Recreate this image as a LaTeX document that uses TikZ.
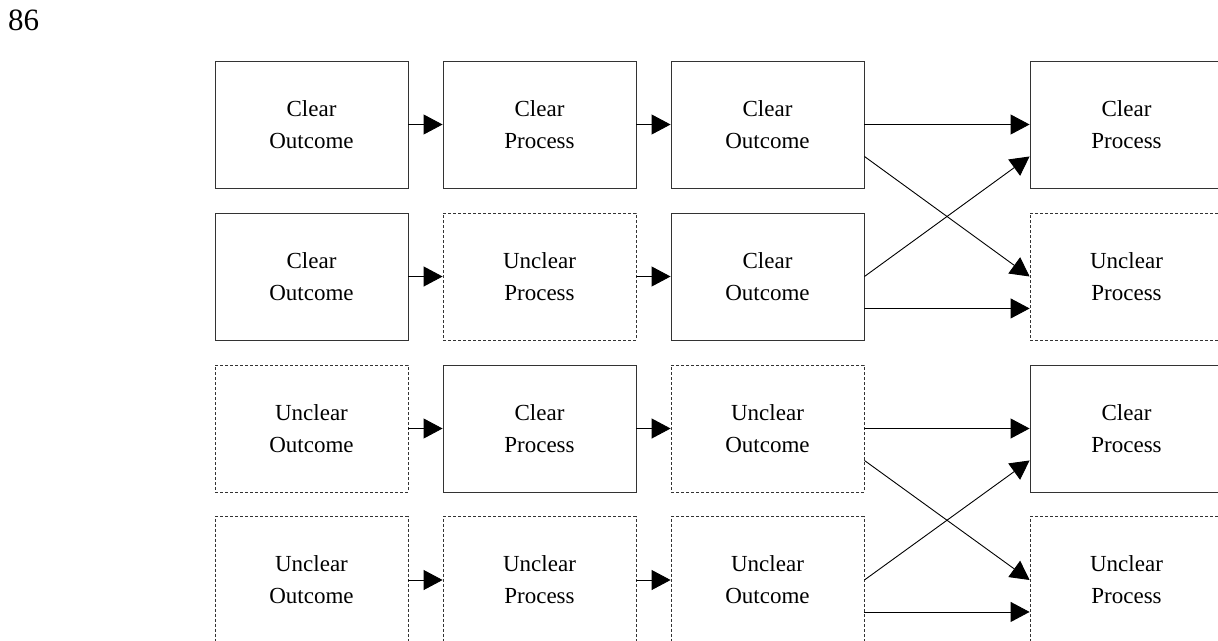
\documentclass[tikz,border=0pt]{standalone}
\usepackage{fontspec}
\setmainfont{Liberation Serif}
\usetikzlibrary{arrows.meta,calc}
\begin{document}
\begin{tikzpicture}[x=1pt,y=-1pt,
  box/.style={draw=black!80, line width=0.9pt, minimum width=193pt, minimum height=127pt, inner sep=0pt, align=center, font=\fontsize{23}{32}\selectfont},
  dbox/.style={box, dash pattern=on 3pt off 2pt, line width=0.8pt},
  arr/.style={draw=black, line width=0.9pt, -{Triangle[length=19pt,width=20pt]}}
]
\useasboundingbox (0,0) rectangle (1218,640);
\clip (0,0) rectangle (1218,640);
\node[anchor=base west, font=\fontsize{31}{36}\selectfont, inner sep=0pt] (pg) at (8,30) {86};
% column 1
\node[box]  (a1) at (311.5,124.5) {Clear\\Outcome};
\node[box]  (a2) at (311.5,276.5) {Clear\\Outcome};
\node[dbox] (a3) at (311.5,428.5) {Unclear\\Outcome};
\node[dbox] (a4) at (311.5,580)   {Unclear\\Outcome};
% column 2
\node[box]  (b1) at (539.5,124.5) {Clear\\Process};
\node[dbox] (b2) at (539.5,276.5) {Unclear\\Process};
\node[box]  (b3) at (539.5,428.5) {Clear\\Process};
\node[dbox] (b4) at (539.5,580)   {Unclear\\Process};
% column 3
\node[box]  (c1) at (767.5,124.5) {Clear\\Outcome};
\node[box]  (c2) at (767.5,276.5) {Clear\\Outcome};
\node[dbox] (c3) at (767.5,428.5) {Unclear\\Outcome};
\node[dbox] (c4) at (767.5,580)   {Unclear\\Outcome};
% column 4
\node[box]  (d1) at (1126.5,124.5) {Clear\\Process};
\node[dbox] (d2) at (1126.5,276.5) {Unclear\\Process};
\node[box]  (d3) at (1126.5,428.5) {Clear\\Process};
\node[dbox] (d4) at (1126.5,580)   {Unclear\\Process};
% straight arrows
\foreach \r in {1,2,3,4} {
  \draw[arr] (a\r) -- (b\r);
  \draw[arr] (b\r) -- (c\r);
}
% crossing arrows
\foreach \u/\l in {1/2,3/4} {
  \draw[arr] (c\u.east) -- (d\u.west);
  \draw[arr] ($(c\u.east)!0.5!(c\u.south east)$) -- (d\l.west);
  \draw[arr] (c\l.east) -- ($(d\u.west)!0.5!(d\u.south west)$);
  \draw[arr] ($(c\l.east)!0.5!(c\l.south east)$) -- ($(d\l.west)!0.5!(d\l.south west)$);
}
\end{tikzpicture}
\end{document}
